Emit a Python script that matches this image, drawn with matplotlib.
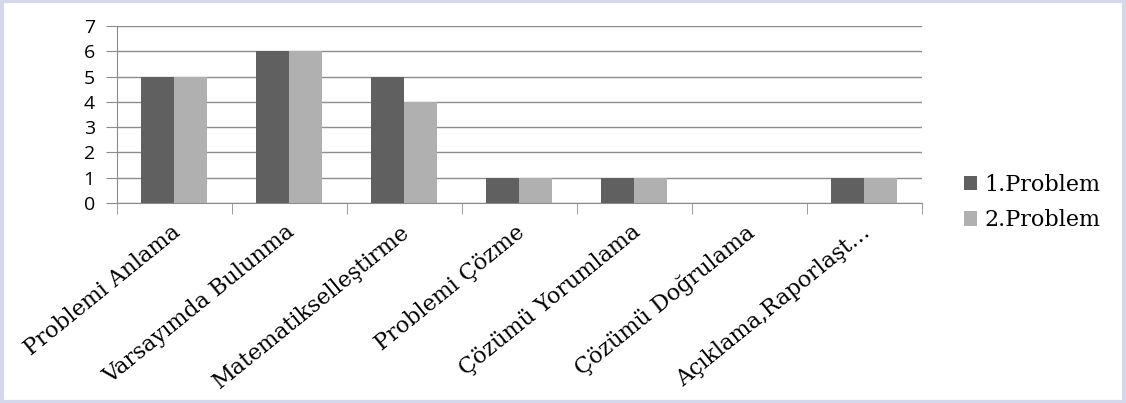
import numpy as np
import matplotlib.pyplot as plt
import matplotlib.transforms as mtransforms
from matplotlib.patches import Rectangle

categories = ["Problemi Anlama", "Varsayımda Bulunma", "Matematikselleştirme",
              "Problemi Çözme", "Çözümü Yorumlama", "Çözümü Doğrulama",
              "Açıklama,Raporlaşt…"]
problem1 = [5, 6, 5, 1, 1, 0, 1]
problem2 = [5, 6, 4, 1, 1, 0, 1]
series_names = ["1.Problem", "2.Problem"]

fig = plt.figure(figsize=(11.26, 4.03), dpi=100)
fig.patches.append(Rectangle((0.002, 0.003), 0.996, 0.994, transform=fig.transFigure,
                             fill=False, edgecolor="#d4d8ea", linewidth=3))
ax = fig.add_axes([0.1039, 0.4963, 0.7149, 0.4392])

x = np.arange(len(categories))
w = 0.287
ax.bar(x - w / 2, problem1, w, color="#606060", label=series_names[0], zorder=3)
ax.bar(x + w / 2, problem2, w, color="#b0b0b0", label=series_names[1], zorder=3)

ax.set_xlim(-0.5, len(categories) - 0.5)
ax.set_ylim(0, 7)
ax.set_yticks(range(8))
ax.yaxis.grid(True, color="#8c8c8c", linewidth=1, zorder=0)
for s in ["top", "right"]:
    ax.spines[s].set_visible(False)
ax.spines["left"].set_color("#8c8c8c")
ax.spines["bottom"].set_color("#8c8c8c")

ax.set_xticks(x)
ax.set_xticklabels(categories, rotation=39, ha="right", va="top", rotation_mode="anchor",
                   family="DejaVu Serif", fontsize=16)
ax.tick_params(axis="x", length=0, pad=13)
shift = mtransforms.ScaledTranslation(-4 / 100, 0, fig.dpi_scale_trans)
for lab in ax.get_xticklabels():
    lab.set_transform(lab.get_transform() + shift)
ax.set_xticks(np.arange(-0.5, len(categories)), minor=True)
ax.tick_params(axis="x", which="minor", length=8, color="#8c8c8c")
ax.tick_params(axis="y", length=8, color="#8c8c8c", labelsize=14, pad=8)
for lab in ax.get_yticklabels():
    lab.set_family("Open Sans")

leg = fig.legend(loc="upper left", bbox_to_anchor=(0.838, 0.618), frameon=False,
                 prop={"family": "DejaVu Serif", "size": 16},
                 handlelength=0.6, handleheight=0.6, handletextpad=0.35, labelspacing=0.6)

fig.savefig("out.png", dpi=100)
